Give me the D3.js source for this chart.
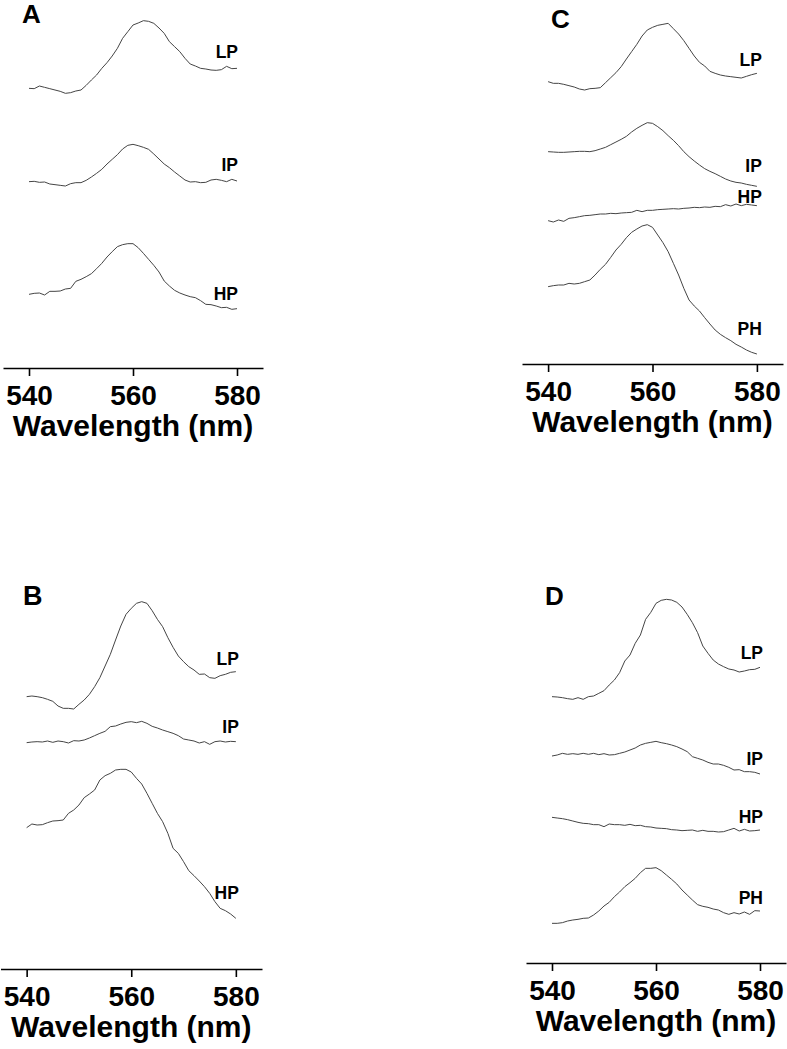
<!DOCTYPE html>
<meta charset="utf-8">
<style>
body { margin: 0; background: #fff; }
text { font-family: "Liberation Sans", Arial, sans-serif; font-weight: bold; }
</style>
<script src="https://d3js.org/d3.v7.min.js"></script>
<div id="my_dataviz"></div>
<script>

// wavelengths (nm) shared by all traces
var wavelengths = [540,541,542,543,544,545,546,547,548,549,550,551,552,553,554,555,556,557,558,559,
                   560,561,562,563,564,565,566,567,568,569,570,571,572,573,574,575,576,577,578,579,580];
var tickValues = [540, 560, 580];

// fluorescence (a.u., traces offset) - panel A
var aLP = [839,838,846,842,838,834,830,824,826,831,834,848,864,879,899,916,936,959,989,1009,1029,1035,1042,1040,1034,1020,1004,979,964,949,929,912,906,899,897,894,893,895,905,898,899];
var aIP = [559,560,557,558,552,550,548,546,553,556,556,563,573,584,596,612,626,640,657,668,671,667,662,656,642,627,612,601,588,576,564,558,559,556,557,564,566,563,559,566,561];
var aHP = [221,224,225,219,230,230,231,237,239,260,266,274,283,298,314,333,349,364,370,373,373,361,344,326,308,288,261,246,233,225,219,214,211,202,191,190,186,181,182,176,178];

// panel B
var bLP = [817,819,817,814,809,803,789,782,782,780,794,807,824,847,874,909,944,987,1029,1064,1082,1097,1102,1097,1075,1049,1027,994,965,939,922,907,897,884,885,874,872,880,884,890,892];
var bIP = [679,681,682,681,684,680,684,682,678,685,684,687,693,700,707,713,727,729,735,740,742,739,743,737,728,723,717,712,707,700,690,687,684,678,682,674,682,684,681,683,682];
var bHP = [424,435,432,433,439,444,445,447,467,477,492,514,525,537,567,580,587,597,599,599,591,572,555,527,497,467,442,407,362,347,322,295,280,264,247,227,202,182,175,165,152];

// panel C
var cLP = [847,842,842,839,835,831,825,822,826,827,829,844,859,874,892,915,937,959,984,1002,1010,1016,1019,1022,1006,990,970,947,924,905,894,878,872,867,864,862,860,858,863,868,872];
var cIP = [637,636,635,635,636,637,638,638,637,640,645,650,658,666,674,683,696,707,716,724,722,712,700,685,671,655,637,622,609,597,586,578,571,563,555,549,545,543,539,536,533];
var cHP = [430,426,432,428,437,439,442,445,446,448,450,450,452,451,453,454,455,461,457,461,461,463,464,465,466,465,467,468,470,469,471,470,473,472,478,474,480,475,479,477,475];
var cPH = [232,235,237,237,242,240,242,247,252,267,284,299,320,342,359,379,395,405,414,418,410,387,364,337,302,267,227,192,174,159,139,120,102,89,79,70,59,51,42,35,30];

// panel D
var dLP = [799,798,796,793,791,796,791,799,801,809,817,834,849,871,906,924,959,984,1031,1052,1079,1088,1091,1089,1082,1068,1046,1021,991,951,929,909,897,889,882,879,873,876,880,881,887];
var dIP = [621,624,629,626,628,626,629,626,629,625,628,624,625,629,633,639,645,654,659,662,665,661,658,654,649,642,634,619,614,609,602,597,597,593,587,579,580,574,574,572,567];
var dHP = [437,435,433,430,426,422,419,418,415,415,409,417,415,415,413,416,412,413,409,408,405,404,403,400,399,397,398,399,395,398,395,395,393,394,399,404,396,401,396,397,399];
var dPH = [119,119,121,126,129,131,134,135,144,156,171,182,199,213,229,241,254,271,284,284,286,277,264,251,237,219,204,189,175,170,167,162,159,151,146,151,147,153,146,157,156];

// panel layout: axis position, letter, traces and where their labels sit
var panels = [
  {letter: "A", lx: 22, ly: 23, lsize: 26, left: 3, right: 263, axisY: 368, labelDx: 1,
   traces: [["LP", aLP, 58], ["IP", aIP, 171], ["HP", aHP, 300]]},
  {letter: "B", lx: 23, ly: 605, lsize: 27, left: 0.5, right: 262, axisY: 969, labelDx: 3,
   traces: [["LP", bLP, 665], ["IP", bIP, 733], ["HP", bHP, 899]]},
  {letter: "C", lx: 551, ly: 28, lsize: 26, left: 522, right: 783, axisY: 364, labelDx: 5,
   traces: [["LP", cLP, 66], ["IP", cIP, 172], ["HP", cHP, 203], ["PH", cPH, 335]]},
  {letter: "D", lx: 545, ly: 605, lsize: 26, left: 526, right: 786, axisY: 963, labelDx: 3,
   traces: [["LP", dLP, 659], ["IP", dIP, 765], ["HP", dHP, 823], ["PH", dPH, 904]]}
];

var svg = d3.select("#my_dataviz")
  .append("svg")
    .attr("width", 787)
    .attr("height", 1049);

panels.forEach(function(p) {
  var g = svg.append("g");

  // x scale spans the drawn axis line (535-585 nm)
  var x = d3.scaleLinear()
    .domain([535, 585])
    .range([p.left, p.right]);

  // y: 3 units per pixel above the axis line
  var y = d3.scaleLinear()
    .domain([0, 1200])
    .range([p.axisY, p.axisY - 400]);

  var xAxis = g.append("g")
    .attr("transform", "translate(0," + p.axisY + ")")
    .call(d3.axisBottom(x).tickValues(tickValues).tickSize(8).tickSizeOuter(0).tickPadding(9));
  xAxis.select(".domain").attr("stroke-width", 1.6);
  xAxis.selectAll(".tick line").attr("stroke-width", 1.6);
  xAxis.selectAll(".tick text")
    .style("font-size", "28px")
    .style("font-family", "'Liberation Sans', Arial, sans-serif")
    .style("font-weight", "bold")
    .attr("fill", "#000");

  // axis title
  g.append("text")
    .attr("x", x(560))
    .attr("y", p.axisY + 68)
    .attr("text-anchor", "middle")
    .style("font-size", "30px")
    .text("Wavelength (nm)");

  // panel letter
  g.append("text")
    .attr("x", p.lx)
    .attr("y", p.ly)
    .style("font-size", p.lsize + "px")
    .text(p.letter);

  var line = d3.line()
    .x(function(d, i) { return x(wavelengths[i]); })
    .y(function(d) { return y(d); });

  p.traces.forEach(function(t) {
    g.append("path")
      .datum(t[1])
      .attr("fill", "none")
      .attr("stroke", "#454545")
      .attr("stroke-width", 1)
      .attr("d", line);

    g.append("text")
      .attr("x", x(580) + p.labelDx)
      .attr("y", t[2])
      .attr("text-anchor", "end")
      .style("font-size", "17.5px")
      .text(t[0]);
  });
});

</script>
